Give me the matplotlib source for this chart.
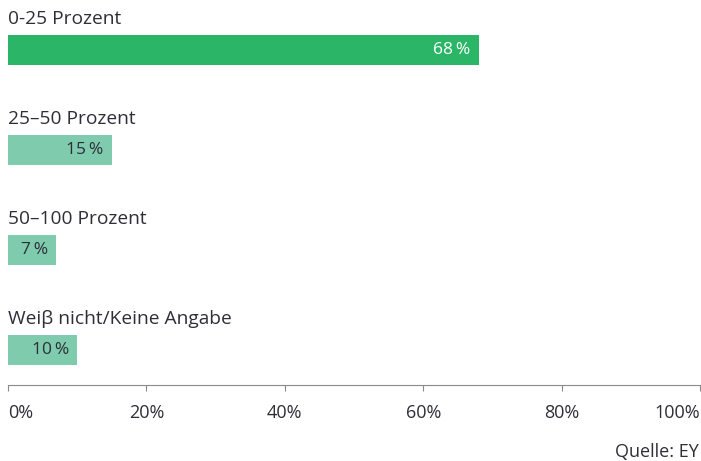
import matplotlib
matplotlib.use("Agg")
import matplotlib.pyplot as plt
from matplotlib.ticker import FuncFormatter

categories = ["0-25 Prozent", "25–50 Prozent", "50–100 Prozent", "Weiβ nicht/Keine Angabe"]
values = [68, 15, 7, 10]
bar_colors = ["#2bb566", "#7fcbad", "#7fcbad", "#7fcbad"]
value_colors = ["#ffffff", "#2e2e38", "#2e2e38", "#2e2e38"]
ticks = [0, 20, 40, 60, 80, 100]
source = "Quelle: EY"

plt.rcParams['font.family'] = ['Open Sans', 'DejaVu Sans']
text_color = "#2e2e38"

fig = plt.figure(figsize=(7.01, 4.61), dpi=100)
W, H = 701, 461
ax = fig.add_axes([8 / W, 1 - 385 / H, 692 / W, 385 / H])

y = list(range(len(categories)))
ax.barh(y, values, height=0.3, color=bar_colors)
ax.set_xlim(0, 100)
ax.set_ylim(3.35, -0.5)

for i, (c, v) in enumerate(zip(categories, values)):
    ax.text(0, i - 0.31, c, ha="left", va="center", fontsize=13.8, color=text_color)
    ax.annotate(f"{v}\u2009%", xy=(v, i), xytext=(-6, 0), textcoords="offset points",
                ha="right", va="center", fontsize=12.5, color=value_colors[i],
                family=['Open Sans', 'DejaVu Sans'])

for s in ["top", "right", "left"]:
    ax.spines[s].set_visible(False)
ax.spines["bottom"].set_color("#8a8a8a")
ax.spines["bottom"].set_linewidth(0.8)
ax.set_yticks([])
ax.set_xticks(ticks)
ax.xaxis.set_major_formatter(FuncFormatter(lambda x, p: f"{int(x)}%"))
ax.tick_params(axis="x", direction="out", length=4, width=0.8, color="#8a8a8a",
               labelsize=13, labelcolor=text_color, pad=10)
labels = ax.get_xticklabels()
labels[0].set_ha("left")
labels[-1].set_ha("right")

fig.text(699 / W, 1 - 452 / H, source, ha="right", va="center", fontsize=13, color=text_color)

fig.savefig("out.png", dpi=100)
